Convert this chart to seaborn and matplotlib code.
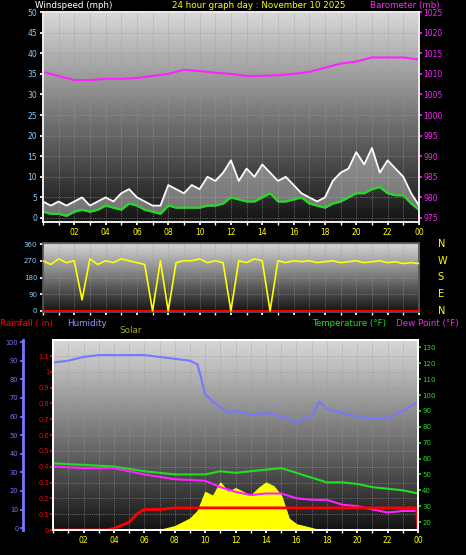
import numpy as np
import matplotlib
matplotlib.use("Agg")
import matplotlib.pyplot as plt
import seaborn as sns

sns.set_theme(style="dark")
plt.rcParams['font.family'] = ['DejaVu Sans']

# ---- data ----
t_half = [i * 0.5 for i in range(49)]
wind_avg = [1.5, 1, 1, 0.5, 1.5, 2, 1.5, 2, 3, 2.5, 2, 3.5, 3, 2, 1.5, 1, 3, 2.5, 2.5, 2.5,
            2.5, 3, 3, 3.5, 5, 4.5, 4, 4, 5, 6, 4, 4, 4.5, 5, 3.5, 3, 2.5, 3.5, 4, 5,
            6, 6, 7, 7.5, 6, 5.5, 5.5, 3.5, 2]
wind_gust = [4, 3, 4, 3, 4, 5, 3, 4, 5, 4, 6, 7, 5, 4, 3, 3, 8, 7, 6, 8,
             7, 10, 9, 11, 14, 9, 12, 10, 13, 11, 9, 10, 8, 6, 5, 4, 5, 9, 11, 12,
             16, 13, 17, 11, 14, 12, 10, 6, 3]
t_hour = list(range(25))
baro = [1010.5, 1009.5, 1008.5, 1008.5, 1008.8, 1008.8, 1009, 1009.5, 1010, 1011, 1010.7,
        1010.3, 1010, 1009.5, 1009.5, 1009.7, 1010, 1010.5, 1011.5, 1012.5, 1013, 1014,
        1014, 1014, 1013.5]
wind_dir = [270, 250, 280, 260, 270, 60, 280, 250, 270, 260, 280, 270, 260, 250, 0, 270,
            0, 260, 270, 270, 280, 260, 270, 260, 0, 270, 260, 280, 270, 0, 270, 260,
            270, 265, 270, 260, 265, 270, 260, 265, 270, 260, 265, 270, 260, 265, 255, 260, 255]
t_hum = [0, 1, 2, 3, 4, 5, 6, 7, 8, 9, 9.5, 10, 10.5, 11, 11.5, 12, 13, 14, 15, 16, 17,
         17.5, 18, 19, 20, 21, 22, 23, 24]
humidity = [89, 90, 92, 93, 93, 93, 93, 92, 91, 90, 88, 72, 68, 65, 62, 63, 61, 62, 60,
            57, 60, 68, 64, 62, 60, 59, 59, 63, 68]
t_temp = [0, 2, 4, 6, 8, 10, 11, 12, 13, 14, 15, 16, 17, 18, 19, 20, 21, 22, 23, 24]
temperature = [57, 56, 55, 52, 50, 50, 52, 51, 52, 53, 54, 51, 48, 45, 45, 44, 42, 41, 40, 38]
dewpoint = [55, 54, 54, 50, 47, 46, 42, 39, 37, 38, 38, 35, 34, 34, 31, 30, 28, 26, 27, 27]
t_rain = [0, 3.5, 4, 5, 5.5, 6, 7, 8, 23.9, 24]
rain = [0, 0, 0.01, 0.05, 0.1, 0.13, 0.13, 0.14, 0.14, 0]
t_solar = [0, 7, 8, 9, 9.5, 10, 10.5, 11, 11.5, 12, 12.5, 13, 13.5, 14, 14.5, 15, 15.5,
           16, 17, 17.5, 24]
solar = [0, 0, 20, 60, 100, 200, 180, 250, 200, 220, 200, 180, 220, 250, 230, 180, 60,
         30, 10, 0, 0]
hour_ticks = [2, 4, 6, 8, 10, 12, 14, 16, 18, 20, 22, 24]
hour_labels = ["02", "04", "06", "08", "10", "12", "14", "16", "18", "20", "22", "00"]

fig = plt.figure(figsize=(4.66, 5.55), dpi=100, facecolor="black")
grad = np.linspace(1, 0, 256).reshape(-1, 1)

def setup(ax, ylim, xlabels=True):
    ax.set_xlim(0, 24)
    ax.set_ylim(*ylim)
    ax.imshow(grad, extent=[0, 24, ylim[0], ylim[1]], aspect="auto",
              cmap="gray", vmin=-0.1, vmax=1.2, zorder=0)
    ax.set_facecolor("black")
    for s in ax.spines.values():
        s.set_color("#555555")
    ax.set_xticks(hour_ticks)
    if xlabels:
        ax.set_xticklabels(hour_labels, color="yellow", fontsize=5.5)
    else:
        ax.set_xticklabels([])
    ax.set_xticks(range(25), minor=True)
    ax.grid(True, which="both", color="#999999", linestyle=":", linewidth=0.5, zorder=1)
    ax.tick_params(axis="both", which="both", length=2, color="white", pad=2,
                   bottom=True, left=True)

TF = 6.3
# top
ax1 = fig.add_axes([0.092, 0.60, 0.807, 0.378])
setup(ax1, (-1, 50))
ax1.set_yticks(range(0, 51, 5))
ax1.tick_params(axis="y", labelcolor="#88ccff", labelsize=5.5)
ax1.fill_between(t_half, wind_avg, wind_gust, color="#cccccc", alpha=0.5, zorder=2)
sns.lineplot(x=t_half, y=wind_gust, ax=ax1, color="white", linewidth=1.2, zorder=3)
sns.lineplot(x=t_half, y=wind_avg, ax=ax1, color="#22dd22", linewidth=1.5, zorder=4)
ax1b = ax1.twinx()
ax1b.set_ylim(974, 1025)
sns.lineplot(x=t_hour, y=baro, ax=ax1b, color="#ff22ff", linewidth=1.5)
ax1b.set_yticks(range(975, 1026, 5))
ax1b.tick_params(axis="y", labelcolor="#ff22ff", labelsize=5.5, length=2, color="#ff22ff", pad=1)
ax1b.set_ylabel("")
fig.text(0.075, 0.998, "Windspeed (mph)", color="white", fontsize=TF, va="top")
fig.text(0.37, 0.998, "24 hour graph day : November 10 2025", color="yellow", fontsize=TF, va="top")
fig.text(0.795, 0.998, "Barometer (mb)", color="#ff22ff", fontsize=TF, va="top")

# middle
ax2 = fig.add_axes([0.092, 0.438, 0.807, 0.124])
setup(ax2, (-5, 365), xlabels=False)
ax2.set_yticks(range(0, 361, 90))
ax2.tick_params(axis="y", labelcolor="#88ccff", labelsize=5)
ax2.axhline(0, color="red", linewidth=1.5, zorder=3)
sns.lineplot(x=t_half, y=wind_dir, ax=ax2, color="yellow", linewidth=1.2, zorder=4)
for lab, yy in zip(["N", "W", "S", "E", "N"], [360, 270, 180, 90, 0]):
    ax2.text(1.05, (yy + 5) / 370, lab, transform=ax2.transAxes, color="yellow",
             fontsize=7, va="center")

# bottom
ax3 = fig.add_axes([0.114, 0.045, 0.783, 0.342])
setup(ax3, (0, 1.2))
ax3.set_yticks([0, 0.1, 0.2, 0.3, 0.4, 0.5, 0.6, 0.7, 0.8, 0.9, 1, 1.1])
ax3.set_yticklabels(["0", "0.1", "0.2", "0.3", "0.4", "0.5", "0.6", "0.7", "0.8", "0.9", "1", "1.1"])
ax3.tick_params(axis="y", labelcolor="red", labelsize=4.8, color="red", pad=1)
ax3.spines["left"].set_color("red")
ax3s = ax3.twinx()
ax3s.set_ylim(0, 1000)
ax3s.fill_between(t_solar, 0, solar, color="yellow", zorder=2)
ax3s.set_yticks([])
ax3h = ax3.twinx()
ax3h.set_ylim(-1, 101)
ax3h.yaxis.set_ticks_position("left")
ax3h.spines["left"].set_position(("outward", 22))
ax3h.spines["left"].set_color("#7777ff")
ax3h.spines["left"].set_linewidth(2)
ax3h.set_yticks(range(0, 101, 10))
ax3h.tick_params(axis="y", labelcolor="#7777ff", labelsize=4.8, color="#7777ff", length=2, pad=1)
sns.lineplot(x=t_hum, y=humidity, ax=ax3h, color="#7777ff", linewidth=1.5)
ax3t = ax3.twinx()
ax3t.set_ylim(15, 134.5)
ax3t.set_yticks(range(20, 131, 10))
ax3t.tick_params(axis="y", labelcolor="#22dd22", labelsize=5, color="#22dd22", length=2, pad=1)
sns.lineplot(x=t_temp, y=temperature, ax=ax3t, color="#22dd22", linewidth=1.5)
sns.lineplot(x=t_temp, y=dewpoint, ax=ax3t, color="#ff22ff", linewidth=1.5)
sns.lineplot(x=t_rain, y=[r * 119.5 / 1.2 + 15 for r in rain], ax=ax3t, color="red", linewidth=2)
for a in (ax3h, ax3t, ax3s):
    a.set_ylabel("")
ax3h.set_xlim(0, 24); ax3t.set_xlim(0, 24); ax3s.set_xlim(0, 24)

fig.text(0.0, 0.425, "Rainfall (.in)", color="red", fontsize=TF, va="top")
fig.text(0.145, 0.425, "Humidity", color="#9999ff", fontsize=TF, va="top")
fig.text(0.257, 0.413, "Solar", color="#aaaa22", fontsize=TF, va="top")
fig.text(0.67, 0.425, "Temperature (°F)", color="#22dd22", fontsize=TF, va="top")
fig.text(0.85, 0.425, "Dew Point (°F)", color="#ff22ff", fontsize=TF, va="top")

fig.savefig("out.png", dpi=100, facecolor="black")
